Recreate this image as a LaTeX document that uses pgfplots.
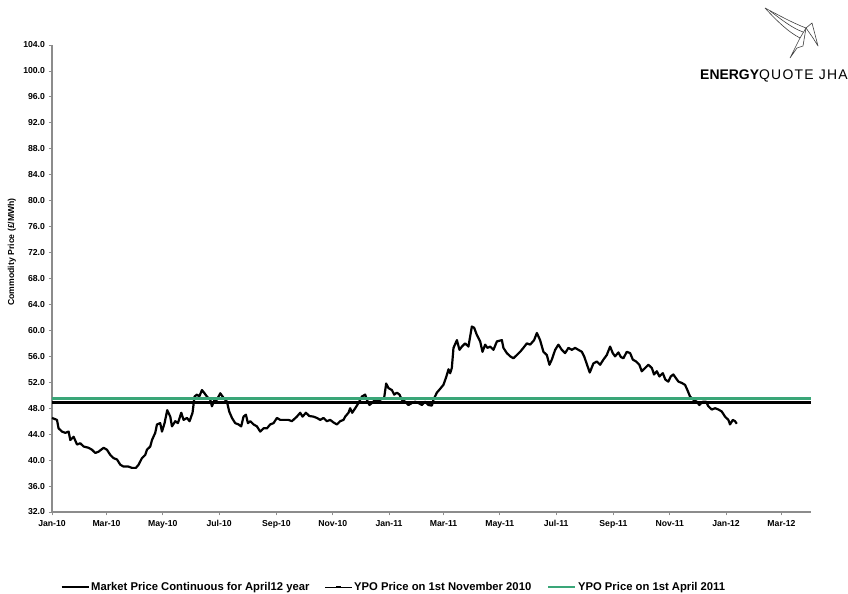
\documentclass[border=0pt]{standalone}
\usepackage{fontspec}
\setmainfont{Liberation Sans}
\usepackage{pgfplots}
\pgfplotsset{compat=1.18}
\definecolor{ypogreen}{RGB}{58,166,120}
\definecolor{axgray}{RGB}{140,140,140}
\begin{document}
\begin{tikzpicture}[x=1bp,y=1bp]
\useasboundingbox (0,0) rectangle (848,594);
\begin{axis}[
  at={(52bp,82bp)}, anchor=south west,
  scale only axis, width=759bp, height=467bp,
  xmin=0, xmax=822, ymin=32, ymax=104,
  axis x line*=bottom, axis y line*=left,
  axis line style={axgray, line width=1.2bp},
  every tick/.style={axgray, line width=0.8bp},
  tick align=outside, major tick length=3.5bp,
  xtick={0,59,120,181,243,304,365,424,485,546,608,669,730,790},
  xticklabels={Jan-10,Mar-10,May-10,Jul-10,Sep-10,Nov-10,Jan-11,Mar-11,May-11,Jul-11,Sep-11,Nov-11,Jan-12,Mar-12},
  ytick={32,36,...,104},
  yticklabel style={/pgf/number format/.cd, fixed, fixed zerofill, precision=1, assume math mode=true},
  ticklabel style={font=\fontsize{8.7}{10}\selectfont\bfseries},
  xticklabel style={yshift=-1bp, text height=6.5bp, text depth=1.5bp, anchor=north},
  ylabel={Commodity Price (£/MWh)},
  ylabel style={at={(axis description cs:-0.0527,0.557)}, anchor=center, font=\fontsize{8.7}{10}\selectfont\bfseries},
  legend columns=3,
  legend style={at={(axis description cs:0.450,-0.1606)}, anchor=center, draw=none, fill=none,
    font=\fontsize{11.3}{13}\selectfont\bfseries,
    /tikz/every even column/.append style={column sep=14bp},
    nodes={inner xsep=1.5bp}},
  legend image code/.code={\draw[#1] (0bp,0bp) -- (27bp,0bp);},
  clip=false,
]
\addplot[black, line width=2.2bp, line join=round] coordinates {
(0,46.5) (5.4,46.2) (7.1,44.9) (10.8,44.4) (14.4,44.2) (18.0,44.4) (19.8,43.1) (23.4,43.6) (27.1,42.4) (30.6,42.6) (34.2,42.1) (39.6,41.9) (43.3,41.6) (46.9,41.1) (50.4,41.3) (55.9,41.9) (59.5,41.6) (63.1,40.8) (66.7,40.3) (70.4,40.1) (73.9,39.3) (77.5,39.0) (82.9,39.0) (86.6,38.8) (90.9,38.8) (93.8,39.3) (97.4,40.3) (101.0,40.8) (102.8,41.6) (106.4,42.1) (108.3,43.1) (111.8,44.2) (113.7,45.5) (117.2,45.7) (119.1,44.4) (121.9,45.7) (124.8,47.7) (128.1,46.7) (129.9,45.2) (133.5,46.0) (136.4,45.7) (140.0,47.3) (142.5,46.2) (146.2,46.5) (149.0,46.0) (152.2,47.3) (154.4,49.8) (157.0,50.1) (159.5,49.8) (162.4,50.8) (165.2,50.3) (167.8,49.8) (171.4,49.3) (173.2,48.3) (176.0,49.3) (178.6,49.3) (182.2,50.3) (185.8,49.6) (189.5,49.0) (191.9,47.5) (194.9,46.5) (198.4,45.7) (202.0,45.5) (204.9,45.2) (207.4,46.7) (210.0,47.0) (212.2,45.7) (214.7,46.0) (218.3,45.5) (221.9,45.2) (225.5,44.4) (229.1,44.9) (232.8,44.9) (236.3,45.5) (239.9,45.7) (243.6,46.5) (247.2,46.2) (250.7,46.2) (256.1,46.2) (259.8,46.0) (265.2,46.7) (268.8,47.3) (271.3,46.7) (275.0,47.3) (278.6,46.8) (283.2,46.7) (286.9,46.5) (290.5,46.2) (294.0,46.5) (297.7,46.0) (301.3,46.2) (304.9,45.8) (308.5,45.5) (312.1,46.0) (315.7,46.2) (317.5,46.7) (321.1,47.3) (322.9,48.0) (325.1,47.3) (328.4,48.0) (331.9,48.8) (335.6,49.8) (339.2,50.1) (341.0,49.3) (343.8,48.5) (346.4,48.8) (350.0,49.3) (355.4,49.3) (359.7,49.6) (361.9,51.8) (364.4,51.1) (368.1,50.8) (370.6,50.1) (373.5,50.4) (376.3,50.1) (378.9,49.3) (382.5,49.0) (386.1,48.5) (389.7,48.8) (393.3,49.0) (396.9,48.8) (400.6,48.5) (404.1,49.0) (407.7,48.5) (411.4,48.4) (413.1,49.3) (416.8,50.4) (420.4,51.0) (423.9,51.6) (426.9,52.8) (429.4,54.0) (431.2,53.4) (433.0,54.2) (434.8,57.3) (438.5,58.5) (441.3,57.0) (443.9,57.5) (447.4,58.0) (451.0,57.5) (454.7,60.6) (457.2,60.4) (460.1,59.3) (463.7,58.3) (466.2,56.7) (469.1,57.8) (471.6,57.3) (474.5,57.5) (478.1,57.0) (481.8,58.3) (487.2,58.5) (488.9,57.3) (492.6,56.5) (496.2,56.0) (499.7,55.7) (503.4,56.2) (507.0,56.7) (510.5,57.3) (514.2,58.0) (517.8,57.8) (522.1,58.5) (525.1,59.6) (528.6,58.5) (532.2,56.7) (535.9,56.2) (538.7,54.7) (541.3,55.5) (544.9,57.0) (548.4,57.8) (552.1,57.0) (555.7,56.5) (559.3,57.3) (563.0,57.0) (566.5,57.3) (570.1,57.0) (573.8,56.7) (576.3,56.0) (579.2,54.8) (582.4,53.5) (586.3,54.9) (590.0,55.2) (593.6,54.7) (597.2,55.5) (600.8,56.2) (604.4,57.5) (607.3,56.5) (609.8,56.0) (613.4,56.6) (616.0,55.9) (618.8,55.7) (622.5,56.7) (626.1,56.5) (629.0,55.5) (632.6,55.2) (636.1,54.7) (638.7,53.7) (642.3,54.2) (645.9,54.7) (649.6,54.2) (652.0,53.2) (655.0,53.7) (657.8,52.9) (661.5,53.4) (664.3,52.4) (667.5,52.1) (670.1,52.9) (672.9,53.2) (675.9,52.6) (678.4,52.1) (682.0,51.9) (685.6,51.6) (688.1,50.8) (691.0,49.8) (694.6,49.3) (698.3,49.0) (701.1,48.5) (704.8,49.0) (708.4,49.0) (710.8,48.3) (714.5,47.8) (718.1,48.0) (721.7,47.8) (725.3,47.5) (728.9,46.7) (732.5,46.2) (734.3,45.5) (737.3,46.2) (739.7,46.0) (741.6,45.6)
};
\addlegendentry{Market Price Continuous for April12 year}
\addplot[black, line width=2.6bp, legend image code/.code={\draw[black, line width=0.7bp] (0bp,0bp) -- (27bp,0bp); \draw[black, line width=2bp] (11bp,0bp) -- (16bp,0bp);}] coordinates {(0,48.85) (822,48.85)};
\addlegendentry{YPO Price on 1st November 2010}
\addplot[ypogreen, line width=2.8bp] coordinates {(0,49.45) (822,49.45)};
\addlegendentry{YPO Price on 1st April 2011}
\end{axis}
% logo
\begin{scope}[line width=0.6bp, draw=black!75, line join=round]
\draw (765,586) .. controls (780,578) and (795,570) .. (806,566) -- (812,571) -- (818,548) -- (813,556) -- (806,566);
\draw (765,586) .. controls (775,575) and (788,562) .. (800,556) -- (806,566);
\draw (800,556) -- (790,536) -- (797,546) -- (803,548) -- (806,566);
\draw (770,583) .. controls (782,574) and (792,566) .. (803,562);
\end{scope}
\node[anchor=base west, inner sep=0pt, font=\fontsize{14}{16}\selectfont] at (700,514) {\textbf{ENERGY}\addfontfeature{LetterSpace=9}QUOTE JHA};
\end{tikzpicture}
\end{document}
